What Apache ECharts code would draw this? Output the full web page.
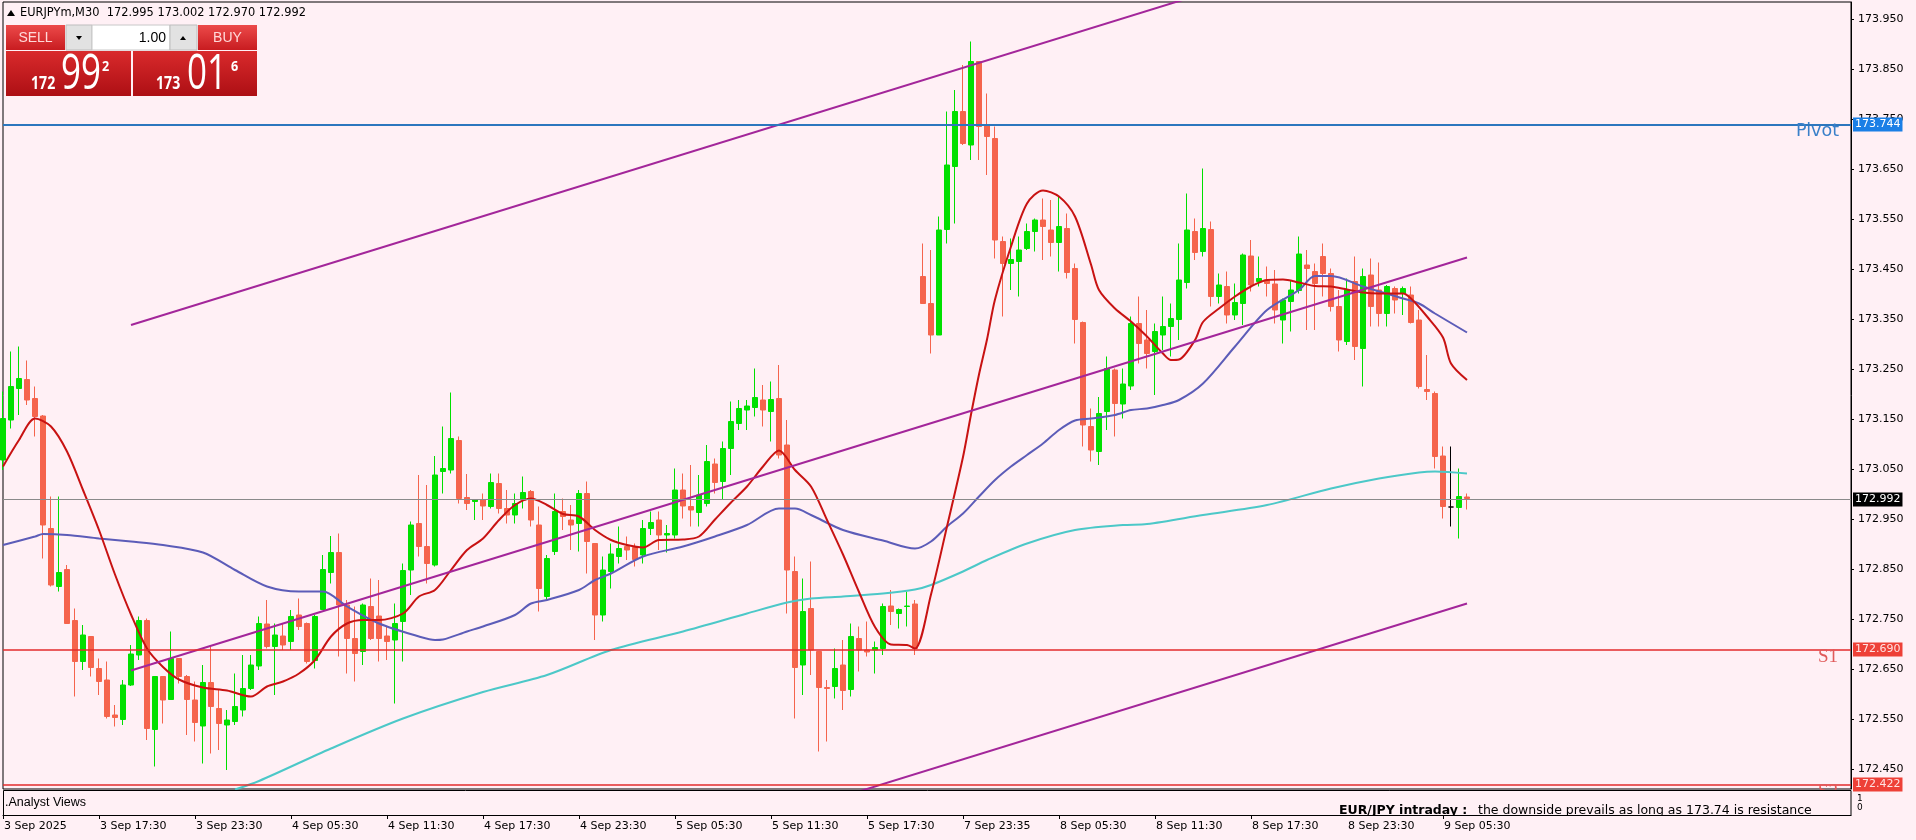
<!DOCTYPE html>
<html><head><meta charset="utf-8">
<script src="https://cdn.jsdelivr.net/npm/echarts@6/dist/echarts.min.js"></script>
<style>html,body{margin:0;padding:0;background:#fff0f5;}#c{width:1916px;height:840px;}</style>
</head><body><div id="c"></div>
<script>
// ---- data (EURJPYm, M30) ----
const open = [173.069,173.149,173.212,173.230,173.192,173.157,172.932,172.816,172.850,172.748,
172.666,172.716,172.652,172.629,172.559,172.550,172.619,172.679,172.748,172.530,
172.636,172.590,172.672,172.636,172.589,172.537,172.624,172.572,172.539,172.546,
172.569,172.612,172.657,172.741,172.696,172.717,172.706,172.759,172.742,172.668,
172.770,172.844,172.884,172.779,172.712,172.686,172.776,172.757,172.717,172.709,
172.746,172.849,172.942,172.896,172.859,173.046,173.049,173.108,172.994,172.986,
172.990,172.976,173.022,172.972,172.959,172.989,173.006,172.939,172.796,172.886,
172.966,172.949,172.942,173.002,172.902,172.759,172.846,172.876,172.896,172.894,
172.879,172.932,172.949,172.919,172.919,173.009,172.976,172.964,172.982,173.061,
173.026,173.092,173.142,173.169,173.174,173.189,173.166,173.192,173.099,172.846,
172.659,172.772,172.686,172.614,172.616,172.659,172.610,172.712,172.689,172.689,
172.692,172.777,172.762,172.776,172.781,173.436,173.382,173.319,173.530,173.656,
173.766,173.699,173.866,173.739,173.712,173.506,173.462,173.466,173.492,173.526,
173.549,173.529,173.504,173.532,173.452,173.344,173.136,173.086,173.166,173.249,
173.181,173.217,173.342,173.309,173.286,173.319,173.336,173.350,173.424,173.526,
173.486,173.530,173.396,173.416,173.359,173.382,173.477,173.426,173.429,173.421,
173.349,173.386,173.408,173.459,173.446,173.476,173.442,173.376,173.306,173.426,
173.292,173.439,173.409,173.362,173.412,173.402,173.399,173.349,173.210,173.202,
173.077,172.975,172.974,172.995];
const high = [173.206,173.286,173.296,173.268,173.216,173.159,172.996,172.996,172.859,172.772,
172.739,172.716,172.672,172.666,172.579,172.629,172.699,172.756,172.752,172.636,
172.636,172.726,172.672,172.639,172.626,172.659,172.699,172.609,172.569,172.642,
172.679,172.679,172.756,172.789,172.742,172.742,172.769,172.792,172.744,172.759,
172.879,172.917,172.922,172.789,172.776,172.782,172.832,172.829,172.737,172.782,
172.862,172.946,173.039,173.019,173.077,173.136,173.204,173.116,173.041,172.989,
173.002,173.042,173.042,173.009,173.002,173.036,173.009,172.976,172.879,173.002,
172.992,172.979,173.009,173.026,172.902,172.876,172.902,172.936,172.916,172.902,
172.949,172.966,172.966,172.939,173.052,173.042,173.059,173.039,173.099,173.072,
173.106,173.186,173.189,173.189,173.252,173.219,173.226,173.259,173.149,172.876,
172.832,172.866,172.686,172.629,172.692,172.709,172.742,172.736,172.746,172.706,
172.782,172.809,172.772,172.806,172.789,173.502,173.489,173.556,173.766,173.809,
173.859,173.906,173.866,173.802,173.736,173.516,173.512,173.516,173.542,173.552,
173.592,173.589,173.596,173.562,173.462,173.346,173.172,173.195,173.276,173.252,
173.252,173.356,173.396,173.369,173.342,173.396,173.382,173.502,173.602,173.552,
173.652,173.546,173.442,173.446,173.422,173.482,173.509,173.476,173.456,173.449,
173.392,173.429,173.516,173.489,173.462,173.502,173.452,173.409,173.432,173.476,
173.452,173.472,173.464,173.419,173.416,173.416,173.416,173.369,173.279,173.206,
173.096,173.096,173.052,173.002];
const low = [173.049,173.132,173.159,173.179,173.116,172.872,172.816,172.806,172.742,172.596,
172.649,172.636,172.599,172.552,172.536,172.539,172.617,172.669,172.509,172.456,
172.542,172.589,172.622,172.519,172.506,172.462,172.482,172.489,172.449,172.539,
172.556,172.609,172.649,172.692,172.599,172.689,172.689,172.729,172.662,172.652,
172.769,172.822,172.676,172.642,172.626,172.659,172.709,172.666,172.669,172.582,
172.666,172.799,172.876,172.822,172.856,173.002,173.042,172.982,172.969,172.949,
172.949,172.972,172.962,172.942,172.942,172.972,172.936,172.766,172.790,172.879,
172.929,172.889,172.886,172.842,172.709,172.746,172.812,172.862,172.869,172.856,
172.862,172.919,172.889,172.884,172.912,172.952,172.936,172.936,172.976,173.002,
172.989,173.039,173.129,173.129,173.156,173.136,173.106,173.072,172.762,172.552,
172.599,172.639,172.486,172.506,172.592,172.569,172.596,172.646,172.676,172.642,
172.679,172.739,172.732,172.736,172.679,173.382,173.282,173.319,173.502,173.542,
173.699,173.669,173.669,173.639,173.472,173.356,173.409,173.396,173.489,173.486,
173.469,173.476,173.446,173.432,173.302,173.096,173.066,173.059,173.129,173.116,
173.152,173.209,173.262,173.252,173.199,173.289,173.276,173.309,173.412,173.469,
173.476,173.376,173.382,173.342,173.349,173.339,173.406,173.416,173.396,173.342,
173.302,173.326,173.402,173.329,173.329,173.396,173.366,173.286,173.299,173.269,
173.216,173.336,173.336,173.336,173.362,173.359,173.342,173.212,173.189,173.052,
172.952,172.936,172.912,172.970];
const close = [173.152,173.216,173.232,173.189,173.156,172.939,172.819,172.844,172.742,172.666,
172.719,172.654,172.626,172.556,172.554,172.619,172.681,172.748,172.532,172.636,
172.589,172.672,172.636,172.590,172.544,172.624,172.576,172.542,172.549,172.576,
172.612,172.659,172.742,172.696,172.719,172.699,172.756,172.736,172.666,172.756,
172.850,172.884,172.779,172.712,172.682,172.779,172.712,172.712,172.706,172.742,
172.848,172.939,172.896,172.862,173.039,173.052,173.112,172.992,172.982,172.989,
172.977,173.024,172.972,172.959,172.982,173.004,172.949,172.812,172.872,172.966,
172.956,172.939,173.002,172.906,172.759,172.849,172.881,172.892,172.889,172.870,
172.932,172.944,172.919,172.922,173.009,172.977,172.969,172.999,173.066,173.024,
173.092,173.146,173.172,173.177,173.194,173.169,173.190,173.079,172.849,172.654,
172.766,172.689,172.614,172.612,172.652,172.608,172.716,172.689,172.685,172.694,
172.776,172.766,172.770,172.777,172.692,173.382,173.319,173.529,173.659,173.766,
173.702,173.866,173.736,173.716,173.509,173.462,173.470,173.489,173.526,173.549,
173.536,173.504,173.536,173.444,173.350,173.139,173.089,173.162,173.252,173.182,
173.221,173.342,173.302,173.282,173.326,173.336,173.352,173.429,173.529,173.484,
173.532,173.396,173.419,173.359,173.384,173.479,173.419,173.432,173.422,173.369,
173.389,173.409,173.481,173.452,173.422,173.442,173.376,173.309,173.409,173.296,
173.436,173.376,173.362,173.416,173.389,173.412,173.344,173.216,173.206,173.076,
172.976,172.975,172.996,172.992];

// moving averages: [bar index, value]
const maFast = [[0,173.056],[2,173.109],[4,173.152],[6,173.136],[8,173.086],[10,173.009],[12,172.929],[14,172.840],[16,172.760],[18,172.692],[20,172.655],[22,172.630],[25,172.614],[28,172.608],[31,172.596],[33,172.616],[35,172.626],[37,172.642],[39,172.669],[41,172.716],[43,172.742],[45,172.749],[47,172.749],[50,172.762],[52,172.796],[54,172.809],[56,172.849],[58,172.889],[60,172.912],[62,172.949],[64,172.979],[66,172.992],[68,172.979],[70,172.961],[72,172.956],[74,172.929],[76,172.909],[78,172.899],[80,172.894],[82,172.909],[85,172.910],[87,172.916],[89,172.950],[91,172.984],[93,173.016],[95,173.056],[97,173.088],[99,173.049],[101,173.016],[103,172.949],[105,172.880],[107,172.805],[109,172.735],[111,172.700],[113,172.699],[114,172.692],[116,172.800],[118,172.936],[120,173.075],[121,173.160],[122,173.240],[123,173.310],[124,173.390],[126,173.496],[128,173.582],[130,173.608],[132,173.596],[134,173.556],[136,173.460],[137,173.409],[139,173.372],[141,173.346],[143,173.316],[145,173.282],[146,173.269],[147,173.270],[149,173.309],[150,173.345],[152,173.372],[154,173.396],[156,173.416],[158,173.429],[160,173.430],[162,173.424],[164,173.417],[166,173.416],[168,173.410],[170,173.404],[172,173.402],[175,173.402],[176,173.392],[178,173.356],[180,173.314],[181,173.262],[183,173.229]];
const maMid = [[0,172.899],[4,172.916],[5,172.921],[8,172.919],[12,172.912],[16,172.906],[20,172.899],[25,172.884],[29,172.849],[33,172.816],[37,172.806],[40,172.806],[43,172.776],[47,172.742],[52,172.716],[54,172.709],[55,172.710],[58,172.726],[60,172.736],[64,172.759],[66,172.782],[68,172.789],[72,172.809],[74,172.829],[76,172.842],[80,172.876],[85,172.896],[89,172.916],[93,172.939],[97,172.972],[99,172.972],[101,172.959],[105,172.929],[110,172.908],[114,172.892],[116,172.906],[118,172.936],[120,172.962],[122,172.996],[124,173.029],[126,173.056],[128,173.079],[130,173.102],[132,173.129],[134,173.148],[136,173.152],[139,173.159],[141,173.169],[143,173.172],[145,173.179],[147,173.189],[150,173.222],[154,173.296],[158,173.369],[162,173.409],[164,173.437],[166,173.437],[170,173.416],[175,173.392],[177,173.382],[179,173.362],[183,173.324]];
const maSlow = [[29,172.410],[32,172.427],[41,172.492],[50,172.552],[60,172.605],[68,172.639],[76,172.689],[85,172.726],[93,172.762],[98,172.784],[101,172.792],[105,172.796],[110,172.802],[114,172.810],[116,172.819],[120,172.846],[123,172.869],[128,172.902],[134,172.929],[140,172.939],[143,172.941],[150,172.959],[158,172.979],[166,173.012],[172,173.032],[177,173.044],[179,173.046],[183,173.042]];

// equidistant channel (bar index, price)
const chanUpper = [[16,173.339],[183,174.165]];
const chanMid = [[16,172.648],[183,173.474]];
const chanLower = [[16,171.956],[183,172.782]];

// horizontal levels
const pivotLevel = 173.744;
const s1Level = 172.690;
const s2Level = 172.422;
const lastPrice = 172.992;

const priceTicks = [173.95,173.85,173.75,173.65,173.55,173.45,173.35,173.25,173.15,173.05,172.95,172.85,172.75,172.65,172.55,172.45];
const timeLabels = ["3 Sep 2025","3 Sep 17:30","3 Sep 23:30","4 Sep 05:30","4 Sep 11:30","4 Sep 17:30","4 Sep 23:30","5 Sep 05:30","5 Sep 11:30","5 Sep 17:30","7 Sep 23:35","8 Sep 05:30","8 Sep 11:30","8 Sep 17:30","8 Sep 23:30","9 Sep 05:30"];

// ---- build ----
const NCAT = 232;
const cats = Array.from({length: NCAT}, (_, i) => String(i));
const UP = '#00e000', DN = '#f5644c';
const candles = close.map((c, i) => {
  const v = [open[i], c, low[i], high[i]];
  if (open[i] === c) return {value: v, itemStyle: {color: '#000', color0: '#000', borderColor: '#000', borderColor0: '#000'}};
  return v;
});
const FONT = 'DejaVu Sans';
const CLEAR = 'rgba(0,0,0,0)';

function boxLabel(v, bg, fg) {
  return {show: true, position: 'end', distance: 2, formatter: v.toFixed(3), backgroundColor: bg, color: fg,
    padding: [2, 2, 1, 2], fontSize: 11, fontFamily: FONT, lineHeight: 11};
}

const chart = echarts.init(document.getElementById('c'));
const lineS = (data, color, width, z, smooth) => ({
  type: 'line', data, xAxisIndex: 0, yAxisIndex: 0, showSymbol: false, symbol: 'none',
  smooth: smooth || false, lineStyle: {color, width}, z, silent: true, animation: false, clip: true
});

const LG = (a, b) => new echarts.graphic.LinearGradient(0, 0, 0, 1, [{offset: 0, color: a}, {offset: 1, color: b}]);
function R(x, y, w, h, fill, stroke, z) {
  return {type: 'rect', shape: {x, y, width: w, height: h}, style: {fill, stroke: stroke || null, lineWidth: 1}, z: z || 50, silent: true};
}
function T(x, y, text, font, fill, align, sx, z) {
  return {type: 'text', x, y, scaleX: sx || 1, z: z || 52, silent: true,
    style: {text, font, fill, textAlign: align || 'left', textVerticalAlign: 'middle', align: align || 'left', verticalAlign: 'middle'}};
}

const graphics = [
  // header
  {type: 'polygon', shape: {points: [[7, 16], [11, 10], [15, 16]]}, style: {fill: '#000'}, z: 52, silent: true},
  T(20, 13, 'EURJPYm,M30  ' + open[183].toFixed(3) + ' ' + high[183].toFixed(3) + ' ' + low[183].toFixed(3) + ' ' + close[183].toFixed(3), '11.4px "DejaVu Sans"', '#000'),
  // one-click panel
  R(6, 25, 59, 25, LG('#ec4a4a', '#c81c20')),
  R(66, 25, 26, 25, '#e2e2e2', '#bdbdbd'),
  R(92, 25, 78, 25, '#ffffff', '#c8c8c8'),
  R(170, 25, 27, 25, '#e2e2e2', '#bdbdbd'),
  R(198, 25, 59, 25, LG('#ec4a4a', '#c81c20')),
  R(6, 51, 125, 45, LG('#d92a2c', '#ad0f14')),
  R(133, 51, 124, 45, LG('#d92a2c', '#ad0f14')),
  {type: 'polygon', shape: {points: [[76, 36], [82, 36], [79, 40]]}, style: {fill: '#000'}, z: 52, silent: true},
  {type: 'polygon', shape: {points: [[180, 40], [186, 40], [183, 36]]}, style: {fill: '#000'}, z: 52, silent: true},
  T(35.5, 38, 'SELL', '14px "Liberation Sans"', '#ffd8d8', 'center'),
  T(227.5, 38, 'BUY', '14px "Liberation Sans"', '#ffd8d8', 'center'),
  T(166, 38, '1.00', '14px "Liberation Sans"', '#000', 'right'),
  T(31, 84, '172', 'bold 17px "Open Sans"', '#fff', 'left', 0.83),
  T(61, 75, '99', '50px "Open Sans"', '#fff', 'left', 0.7),
  T(102, 67, '2', 'bold 14px "Open Sans"', '#fff', 'left', 0.9),
  T(156, 84, '173', 'bold 17px "Open Sans"', '#fff', 'left', 0.83),
  T(187, 75, '01', '50px "Open Sans"', '#fff', 'left', 0.7),
  T(231, 67, '6', 'bold 14px "Open Sans"', '#fff', 'left', 0.9),
  // indicator sub-window
  R(3.5, 790.5, 1847.5, 25, '#fff0f5', '#000', 40),
  T(5, 803, '.Analyst Views', '12.5px "Liberation Sans"', '#000', 'left', 1, 45),
  T(1339, 810.5, 'EUR/JPY intraday :', 'bold 12.5px "DejaVu Sans"', '#000', 'left', 1, 45),
  T(1478, 810.5, 'the downside prevails as long as 173.74 is resistance', '12.5px "DejaVu Sans"', '#000', 'left', 1, 45),
  R(1334, 816, 107, 5, '#fff0f5', null, 46),
  R(1445, 816, 405, 5, '#fff0f5', null, 46),
  {type: 'line', shape: {x1: 3, y1: 815.5, x2: 1851, y2: 815.5}, style: {stroke: '#000', lineWidth: 1}, z: 47, silent: true},
  T(1857, 799, '1', '9px "DejaVu Sans"', '#000'),
  T(1857, 808, '0', '9px "DejaVu Sans"', '#000')
];

const option = {
  animation: false,
  backgroundColor: '#fff0f5',
  grid: [
    {left: 3, right: 65, top: 2, bottom: 51, show: true, borderColor: '#000', borderWidth: 1, backgroundColor: 'transparent'},
    {left: 3, right: 65, top: 791, bottom: 25, show: false}
  ],
  xAxis: [
    {type: 'category', data: cats, gridIndex: 0, boundaryGap: false, show: false},
    {type: 'category', data: cats, gridIndex: 1, boundaryGap: false,
      axisLine: {lineStyle: {color: '#000', width: 1}},
      axisTick: {show: true, length: 4, interval: (i) => i % 12 === 0, lineStyle: {color: '#000'}},
      axisLabel: {interval: (i) => i % 12 === 0, formatter: (v, i) => timeLabels[Math.round(i / 12)] || '', align: 'left', margin: 6, color: '#000', fontSize: 11, fontFamily: FONT, padding: [0, 0, 0, 1]},
      splitLine: {show: false}}
  ],
  yAxis: [
    {type: 'value', gridIndex: 0, position: 'right', min: 172.411, max: 173.985, splitLine: {show: false},
      axisLine: {show: true, lineStyle: {color: '#000'}},
      axisTick: {show: true, length: 3, customValues: priceTicks, lineStyle: {color: '#000'}},
      axisLabel: {customValues: priceTicks, formatter: (v) => Number(v).toFixed(3), margin: 7, color: '#000', fontSize: 11, fontFamily: FONT}},
    {type: 'value', gridIndex: 1, min: 0, max: 1, show: false}
  ],
  series: [
    {
      type: 'candlestick', data: candles, xAxisIndex: 0, yAxisIndex: 0, barWidth: 5, z: 2,
      itemStyle: {color: UP, color0: DN, borderColor: UP, borderColor0: DN, borderWidth: 1},
      markLine: {
        symbol: ['none', 'none'], silent: true, animation: false,
        data: [
          {yAxis: lastPrice, lineStyle: {color: '#8a8a8a', width: 1, type: 'solid'}, label: boxLabel(lastPrice, '#000', '#fff')},
          {yAxis: pivotLevel, lineStyle: {color: '#2c77be', width: 2, type: 'solid'}, label: boxLabel(pivotLevel, '#1a7fe6', '#fff')},
          {yAxis: pivotLevel, lineStyle: {color: CLEAR, width: 1, type: 'solid'},
            label: {show: true, position: 'insideEndBottom', formatter: 'Pivot', color: '#3a80c9', fontSize: 17.5, lineHeight: 13, fontFamily: FONT, padding: [0, 12, 0, 0], distance: 0}},
          {yAxis: s1Level, lineStyle: {color: '#e32b2b', width: 1.5, type: 'solid'}, label: boxLabel(s1Level, '#ee4037', '#ffe2e2')},
          {yAxis: s1Level, lineStyle: {color: CLEAR, width: 1, type: 'solid'},
            label: {show: true, position: 'insideEndBottom', formatter: 'S1', color: '#e05a5a', fontSize: 19, lineHeight: 15, fontFamily: 'Liberation Serif', padding: [0, 13, 0, 0], distance: 0}},
          {yAxis: s2Level, lineStyle: {color: '#e32b2b', width: 1.5, type: 'solid'}, label: boxLabel(s2Level, '#ee4037', '#ffe2e2')},
          {yAxis: s2Level, lineStyle: {color: CLEAR, width: 1, type: 'solid'},
            label: {show: true, position: 'insideEndBottom', formatter: 'S2', color: '#e05a5a', fontSize: 19, lineHeight: 15, fontFamily: 'Liberation Serif', padding: [0, 13, 0, 0], distance: 0}}
        ]
      }
    },
    lineS(maSlow, '#4cc8c8', 2, 3, 0.3),
    lineS(maMid, '#5c5cb8', 2, 3, 0.3),
    lineS(maFast, '#c81212', 2, 4, 0.3),
    lineS(chanUpper, '#a3269a', 2, 4),
    lineS(chanMid, '#a3269a', 2, 4),
    lineS(chanLower, '#a3269a', 2, 4)
  ],
  graphic: graphics
};
chart.setOption(option);
</script>
</body></html>
